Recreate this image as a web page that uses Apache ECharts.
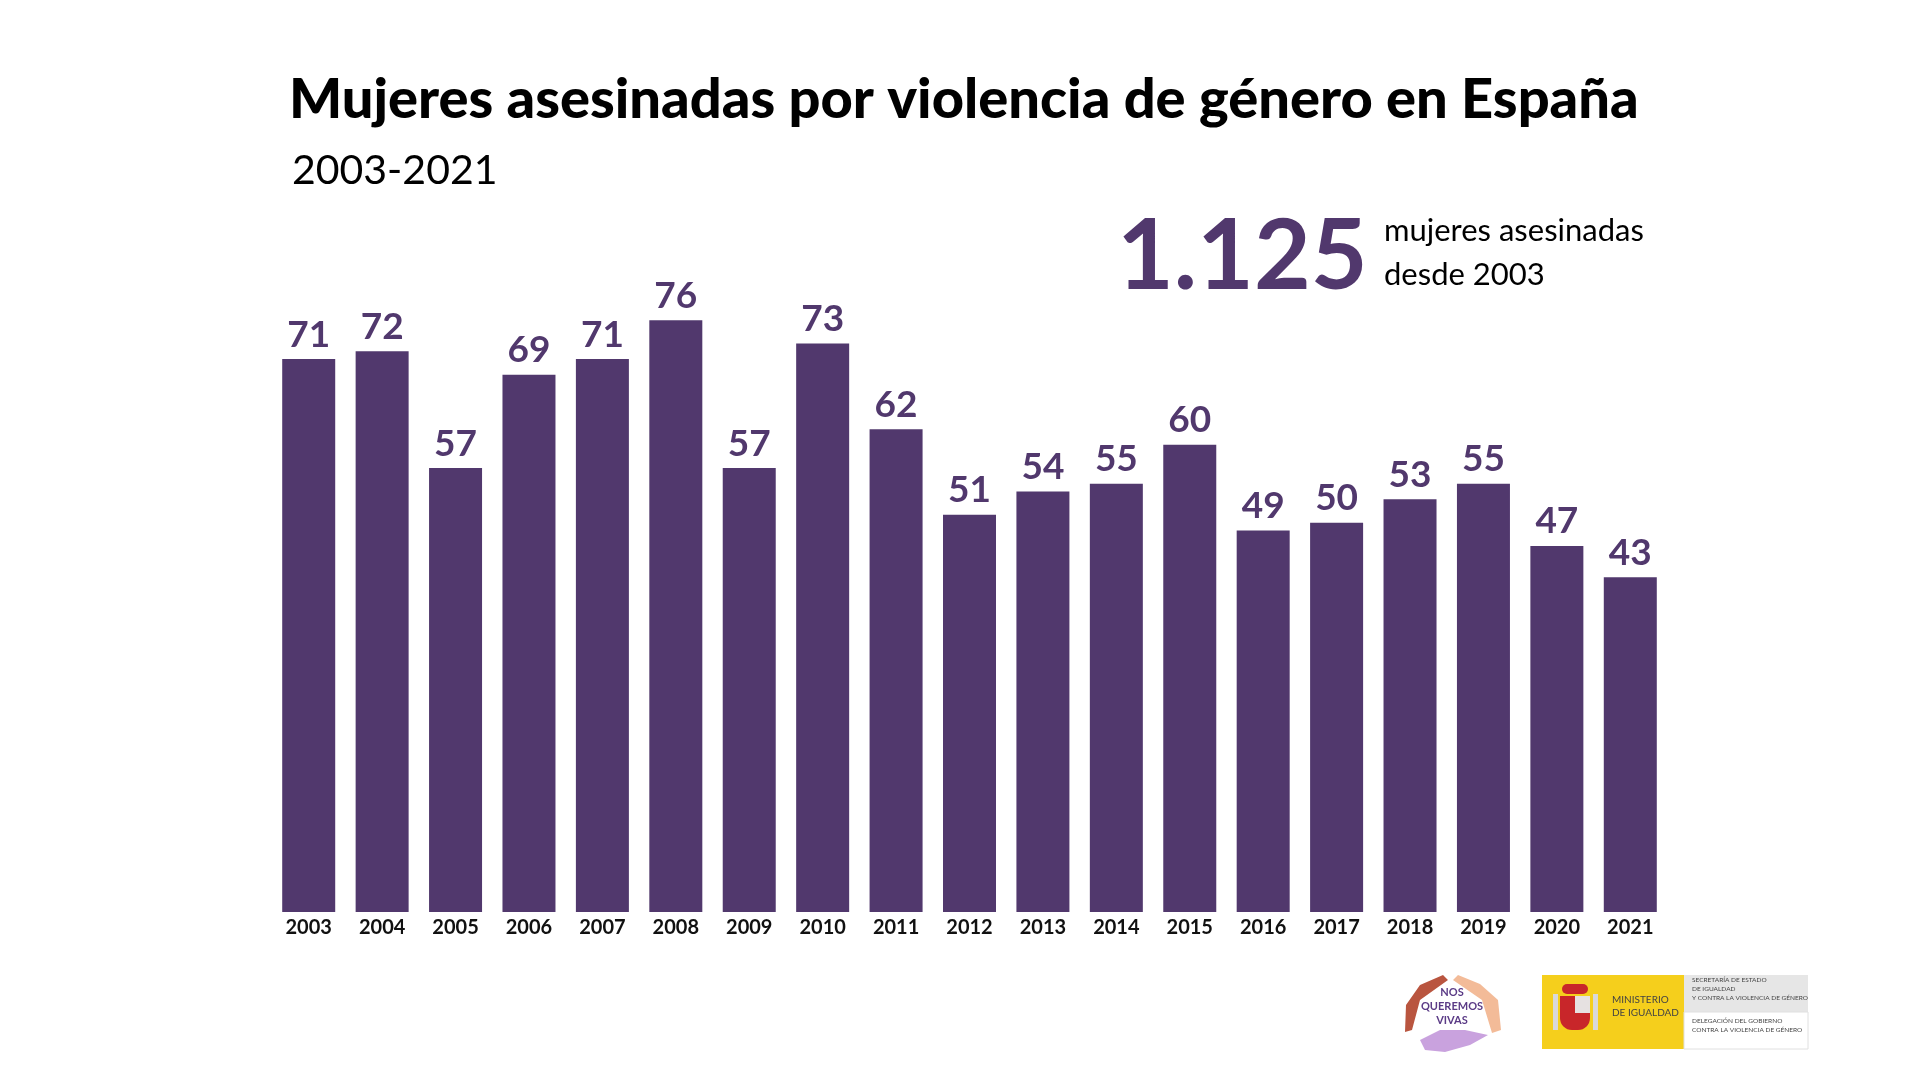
<!DOCTYPE html>
<html><head><meta charset="utf-8">
<script src="https://cdn.jsdelivr.net/npm/echarts@6/dist/echarts.min.js"></script>
<style>html,body{margin:0;padding:0;background:#fff}#c{width:1920px;height:1080px}</style>
</head><body><div id="c"></div>
<script>
const years = ['2003','2004','2005','2006','2007','2008','2009','2010','2011','2012','2013','2014','2015','2016','2017','2018','2019','2020','2021'];
const victims = [71,72,57,69,71,76,57,73,62,51,54,55,60,49,50,53,55,47,43];
const titleText = 'Mujeres asesinadas por violencia de género en España';
const subtitleText = '2003-2021';
const totalText = '1.125';
const totalNote = ['mujeres asesinadas', 'desde 2003'];

const PURPLE = '#51386d';
const FONT = 'Lato, "Open Sans", sans-serif';
const chart = echarts.init(document.getElementById('c'), null, {renderer: 'canvas'});

const logoTexts = [
  {x:1612,y:1000,t:'MINISTERIO',s:10},
  {x:1612,y:1013,t:'DE IGUALDAD',s:10},
  {x:1692,y:980,t:'SECRETARÍA DE ESTADO',s:6.5},
  {x:1692,y:989,t:'DE IGUALDAD',s:6.5},
  {x:1692,y:998,t:'Y CONTRA LA VIOLENCIA DE GÉNERO',s:6.5},
  {x:1692,y:1021,t:'DELEGACIÓN DEL GOBIERNO',s:6.5},
  {x:1692,y:1030,t:'CONTRA LA VIOLENCIA DE GÉNERO',s:6.5}
];

chart.setOption({
  backgroundColor: '#ffffff',
  animation: false,
  grid: {left: 272, right: 253, top: 289, bottom: 168},
  xAxis: {
    type: 'category', data: years,
    axisLine: {show: false}, axisTick: {show: false},
    axisLabel: {color: '#111', fontFamily: FONT, fontWeight: 'bold', fontSize: 20, margin: 6}
  },
  yAxis: {type: 'value', min: 0, max: 80, show: false, splitLine: {show: false}},
  series: [{
    type: 'bar', data: victims, barWidth: 53,
    itemStyle: {color: PURPLE},
    label: {show: true, position: 'top', distance: 6, color: PURPLE, fontFamily: FONT, fontWeight: 'bold', fontSize: 37}
  }],
  graphic: [
    {type:'text', left: 289, top: 72, style:{text: titleText, fill:'#000', font: '900 56px ' + FONT}},
    {type:'text', left: 292, top: 150, style:{text: subtitleText, fill:'#000', font: '41px ' + FONT}},
    {type:'text', left: 1117, top: 208, style:{text: totalText, fill: PURPLE, font: 'bold 98px ' + FONT}},
    {type:'text', left: 1384, top: 215, style:{text: totalNote[0], fill:'#000', font: '31px ' + FONT}},
    {type:'text', left: 1384, top: 259, style:{text: totalNote[1], fill:'#000', font: '31px ' + FONT}},
    // Hands logo (approximation)
    {type:'polygon', shape:{points:[[1443,975],[1448,980],[1420,1000],[1412,1030],[1405,1032],[1406,1005],[1420,985]]}, style:{fill:'#b9553f'}},
    {type:'polygon', shape:{points:[[1458,975],[1453,980],[1482,1000],[1492,1033],[1501,1030],[1498,1000],[1480,984]]}, style:{fill:'#f3bb98'}},
    {type:'polygon', shape:{points:[[1420,1040],[1440,1030],[1465,1030],[1488,1035],[1470,1045],[1445,1052],[1425,1050]]}, style:{fill:'#c9a2de'}},
    {type:'text', x:1452, y:992, style:{text:'NOS', fill:'#5b3b86', font:'bold 11px ' + FONT, align:'center', verticalAlign:'middle'}},
    {type:'text', x:1452, y:1006, style:{text:'QUEREMOS', fill:'#5b3b86', font:'bold 11px ' + FONT, align:'center', verticalAlign:'middle'}},
    {type:'text', x:1452, y:1020, style:{text:'VIVAS', fill:'#5b3b86', font:'bold 11px ' + FONT, align:'center', verticalAlign:'middle'}},
    // Ministry logo (approximation)
    {type:'rect', shape:{x:1542,y:975,width:142,height:74}, style:{fill:'#f5cf1c'}},
    {type:'rect', shape:{x:1684,y:975,width:124,height:37}, style:{fill:'#e6e6e6'}},
    {type:'rect', shape:{x:1684,y:1012,width:124,height:37}, style:{fill:'#ffffff', stroke:'#e0e0e0', lineWidth:1}},
    {type:'rect', shape:{x:1560,y:996,width:30,height:34, r:[0,0,12,12]}, style:{fill:'#c8262a'}},
    {type:'rect', shape:{x:1575,y:996,width:15,height:17}, style:{fill:'#e6e1e1'}},
    {type:'rect', shape:{x:1562,y:984,width:26,height:10, r:5}, style:{fill:'#c8262a'}},
    {type:'rect', shape:{x:1553,y:994,width:5,height:36}, style:{fill:'#d9d9d9'}},
    {type:'rect', shape:{x:1593,y:994,width:5,height:36}, style:{fill:'#d9d9d9'}},
    ...logoTexts.map(d => ({type:'text', x:d.x, y:d.y, style:{text:d.t, fill:'#444', font: d.s + 'px ' + FONT, verticalAlign:'middle'}}))
  ]
});
</script></body></html>
